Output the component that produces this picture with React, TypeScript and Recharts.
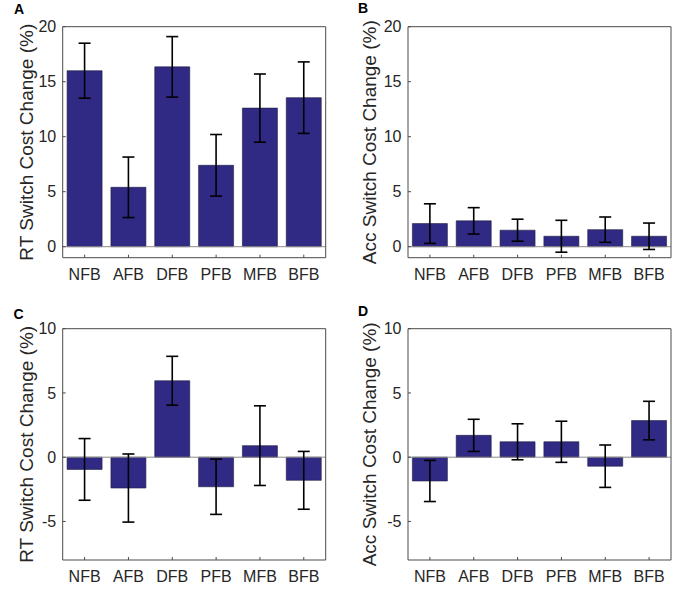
import React from 'react';
import { BarChart, Bar, XAxis, YAxis, ErrorBar, ReferenceLine, Label } from 'recharts';

// conditions on the x axis
const categories = ['NFB', 'AFB', 'DFB', 'PFB', 'MFB', 'BFB'];

// panel A - RT switch cost change
const rtA = [16.0, 5.4, 16.35, 7.4, 12.6, 13.55];
const rtAErr = [2.5, 2.75, 2.75, 2.8, 3.1, 3.25];
// panel B - accuracy switch cost change
const accB = [2.1, 2.35, 1.5, 0.95, 1.55, 0.95];
const accBErr = [1.8, 1.2, 1.0, 1.45, 1.15, 1.2];
// panel C
const rtC = [-0.95, -2.4, 5.95, -2.3, 0.9, -1.8];
const rtCErr = [2.4, 2.65, 1.9, 2.15, 3.1, 2.25];
// panel D
const accD = [-1.85, 1.7, 1.2, 1.2, -0.7, 2.85];
const accDErr = [1.6, 1.25, 1.4, 1.6, 1.65, 1.5];

const ticksTop = [0, 5, 10, 15, 20];
const ticksBottom = [-5, 0, 5, 10];

const FONT = '"Liberation Sans", Arial, Helvetica, sans-serif';
const BAR = '#312a85';
const AXIS = '#4a4a4a';
const TEXT = '#262626';

const build = (vals: number[], errs: number[]) =>
  categories.map((name, i) => ({ name, value: vals[i], err: errs[i] }));

interface PanelProps {
  letter: string;
  letterX: number;
  letterY: number;
  left: number;
  top: number;
  width: number;
  height: number;
  margin: { top: number; right: number; bottom: number; left: number };
  data: { name: string; value: number; err: number }[];
  domain: [number, number];
  ticks: number[];
  ylabel: string;
  labelOffset: number;
}

const Panel: React.FC<PanelProps> = (p) => (
  <div style={{ position: 'absolute', left: p.left, top: p.top, width: p.width, height: p.height }}>
    <BarChart width={p.width} height={p.height} data={p.data} margin={p.margin} barCategoryGap="10%">
      <XAxis
        dataKey="name"
        height={30}
        tickSize={-3}
        tickMargin={14}
        axisLine={{ stroke: AXIS }}
        tickLine={{ stroke: AXIS }}
        tick={{ fill: TEXT, fontSize: 16, fontFamily: FONT }}
        interval={0}
      />
      <XAxis
        xAxisId="top"
        orientation="top"
        dataKey="name"
        height={10}
        tickSize={-3}
        tick={false}
        axisLine={{ stroke: AXIS }}
        tickLine={{ stroke: AXIS }}
        interval={0}
      />
      <YAxis
        type="number"
        domain={p.domain}
        ticks={p.ticks}
        width={45}
        tickSize={-3}
        tickMargin={9.5}
        allowDataOverflow
        axisLine={{ stroke: AXIS }}
        tickLine={{ stroke: AXIS }}
        tick={{ fill: TEXT, fontSize: 16, fontFamily: FONT }}
      >
        <Label
          value={p.ylabel}
          angle={-90}
          position="insideLeft"
          offset={p.labelOffset}
          style={{ textAnchor: 'middle', fill: TEXT, fontSize: 19, fontFamily: FONT }}
        />
      </YAxis>
      <YAxis
        yAxisId="right"
        orientation="right"
        type="number"
        domain={p.domain}
        ticks={p.ticks}
        width={10}
        tickSize={-3}
        tick={false}
        allowDataOverflow
        axisLine={{ stroke: AXIS }}
        tickLine={{ stroke: AXIS }}
      />
      <ReferenceLine y={0} stroke="#8c8c8c" strokeWidth={1} ifOverflow="extendDomain" />
      <Bar dataKey="value" fill={BAR} stroke="#1c1c3c" strokeWidth={0.6} isAnimationActive={false}>
        <ErrorBar dataKey="err" width={6} stroke="#000" strokeWidth={1.6} direction="y" />
      </Bar>
    </BarChart>
    <div
      style={{
        position: 'absolute',
        left: p.letterX,
        top: p.letterY,
        fontFamily: FONT,
        fontWeight: 'bold',
        fontSize: 14,
        lineHeight: '16px',
        color: '#000',
      }}
    >
      {p.letter}
    </div>
  </div>
);

export default function App() {
  return (
    <div style={{ position: 'absolute', left: 0, top: 0, width: 685, height: 591, background: '#fff' }}>
      <Panel
        letter="A" letterX={14} letterY={1}
        left={0} top={0} width={340} height={290}
        margin={{ top: 16.7, right: 4.3, bottom: 2.3, left: 17.7 }}
        data={build(rtA, rtAErr)} domain={[-1, 20]} ticks={ticksTop}
        ylabel="RT Switch Cost Change (%)" labelOffset={8.6}
      />
      <Panel
        letter="B" letterX={18} letterY={0}
        left={340} top={0} width={345} height={290}
        margin={{ top: 16.7, right: 4, bottom: 2.3, left: 23 }}
        data={build(accB, accBErr)} domain={[-1, 20]} ticks={ticksTop}
        ylabel="Acc Switch Cost Change (%)" labelOffset={6}
      />
      <Panel
        letter="C" letterX={13.5} letterY={15.5}
        left={0} top={290} width={340} height={301}
        margin={{ top: 28.7, right: 4.3, bottom: 1, left: 17.7 }}
        data={build(rtC, rtCErr)} domain={[-8, 10]} ticks={ticksBottom}
        ylabel="RT Switch Cost Change (%)" labelOffset={8.6}
      />
      <Panel
        letter="D" letterX={18} letterY={12.5}
        left={340} top={290} width={345} height={301}
        margin={{ top: 28.7, right: 4, bottom: 1, left: 23 }}
        data={build(accD, accDErr)} domain={[-8, 10]} ticks={ticksBottom}
        ylabel="Acc Switch Cost Change (%)" labelOffset={6}
      />
    </div>
  );
}
